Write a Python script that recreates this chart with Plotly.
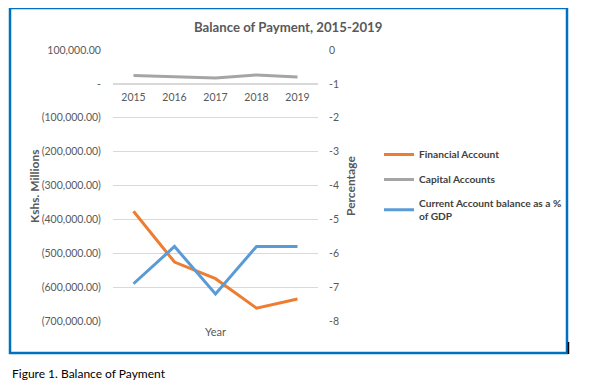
import plotly.graph_objects as go

years = ["2015", "2016", "2017", "2018", "2019"]
financial_account = [-376000, -526000, -575000, -662000, -635000]
capital_accounts = [24500, 21500, 17700, 26500, 20600]
current_account_pct_gdp = [-6.9, -5.8, -7.2, -5.8, -5.8]

left_tickvals = [100000, 0, -100000, -200000, -300000, -400000, -500000, -600000, -700000]
left_ticktext = ["100,000.00", "-", "(100,000.00)", "(200,000.00)", "(300,000.00)",
                 "(400,000.00)", "(500,000.00)", "(600,000.00)", "(700,000.00)"]
right_tickvals = [0, -1, -2, -3, -4, -5, -6, -7, -8]
right_ticktext = ["0", "-1", "-2", "-3", "-4", "-5", "-6", "-7", "-8"]

OFF = 8  # page body margin
W, H = 596 - OFF, 388 - OFF
PL, PR, PT, PB = 113 - OFF, 318 - OFF, 50 - OFF, 321 - OFF  # plot area in figure pixels


def px(x):
    return (x - OFF - PL) / (PR - PL)


def py(y):
    return (PB - (y - OFF)) / (PB - PT)


FONT = "Lato"
GREY = "#595959"

fig = go.Figure()
fig.add_trace(go.Scatter(x=years, y=financial_account, name="Financial Account",
                         mode="lines", line=dict(color="#ED7D31", width=3),
                         legendgroup="a"))
fig.add_trace(go.Scatter(x=years, y=capital_accounts, name="Capital Accounts",
                         mode="lines", line=dict(color="#A5A5A5", width=3),
                         legendgroup="b"))
fig.add_trace(go.Scatter(x=years, y=current_account_pct_gdp,
                         name="Current Account balance as a %<br>of GDP",
                         mode="lines", line=dict(color="#5B9BD5", width=3),
                         yaxis="y2", legendgroup="c"))

fig.update_layout(
    width=W, height=H,
    margin=dict(l=PL, r=W - PR, t=PT, b=H - PB, autoexpand=False),
    paper_bgcolor="white", plot_bgcolor="white",
    font=dict(family=FONT, size=10.5, color=GREY),
    showlegend=True,
    legend=dict(x=px(379), y=py(140), xanchor="left", yanchor="top",
                traceorder="grouped", tracegroupgap=6,
                font=dict(family=FONT, size=10.2, color="#404040", weight="bold"),
                bgcolor="rgba(0,0,0,0)"),
    xaxis=dict(type="category", range=[-0.5, 4.5], anchor="free", position=0.875,
               showgrid=False, showline=True, linecolor="#D9D9D9", linewidth=1,
               ticks="outside", ticklen=4, tickcolor="rgba(0,0,0,0)",
               tickfont=dict(size=10.5, color=GREY), zeroline=False),
    yaxis=dict(range=[-700000, 100000], tickvals=left_tickvals, ticktext=left_ticktext,
               showgrid=True, gridcolor="#D9D9D9", gridwidth=1, zeroline=False,
               showline=False, ticks="outside", ticklen=9, tickcolor="rgba(0,0,0,0)",
               tickfont=dict(size=10.5, color=GREY)),
    yaxis2=dict(range=[-8, 0], tickvals=right_tickvals, ticktext=right_ticktext,
                overlaying="y", side="right",
                showgrid=False, zeroline=False, showline=False,
                ticks="outside", ticklen=8, tickcolor="rgba(0,0,0,0)",
                tickfont=dict(size=10.5, color=GREY)),
)

annots = [
    dict(text="<b>Balance of Payment, 2015-2019</b>", x=px(288), y=py(27),
         font=dict(size=13.2, color=GREY)),
    dict(text="<b>Kshs. Millions</b>", x=px(34), y=py(186), textangle=-90,
         font=dict(size=12, color=GREY)),
    dict(text="<b>Percentage</b>", x=px(350), y=py(186), textangle=-90,
         font=dict(size=12, color=GREY)),
    dict(text="Year", x=px(215), y=py(331), font=dict(size=11, color=GREY)),
    dict(text="Figure 1. Balance of Payment", x=px(10), y=py(373), xanchor="left",
         font=dict(size=12, color="#000000")),
]
for a in annots:
    a.setdefault("xanchor", "center")
    fig.add_annotation(xref="paper", yref="paper", showarrow=False, yanchor="middle", **a)

fig.add_shape(type="rect", xref="paper", yref="paper",
              x0=px(10), x1=px(567), y0=py(353), y1=py(8),
              line=dict(color="#0070C0", width=2.5), fillcolor="rgba(0,0,0,0)")
fig.add_shape(type="line", xref="paper", yref="paper",
              x0=px(568.5), x1=px(568.5), y0=py(354), y1=py(342),
              line=dict(color="#000000", width=1.5))

fig.write_html("out.html")
